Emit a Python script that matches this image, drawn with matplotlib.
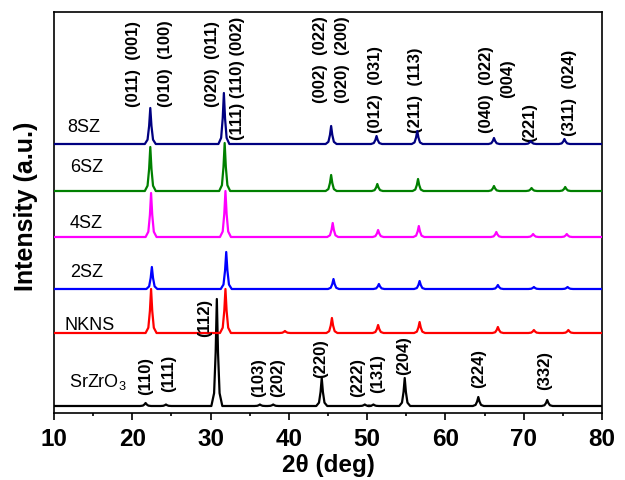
import matplotlib
matplotlib.use("Agg")
import matplotlib.pyplot as plt
import numpy as np

plt.rcParams['font.family'] = ['Liberation Sans', 'DejaVu Sans']
plt.rcParams['mathtext.fontset'] = 'custom'
plt.rcParams['mathtext.rm'] = 'Liberation Sans'
plt.rcParams['mathtext.default'] = 'rm'

# patterns, bottom to top: name, colour, baseline offset, peak positions (2theta), peak heights (a.u.)
names = ["SrZrO$_3$", "NKNS", "2SZ", "4SZ", "6SZ", "8SZ"]
colors = ["black", "#ff0000", "#0000ff", "#ff00ff", "#008000", "#000080"]
offsets = [7, 80, 124, 176, 222, 269]

srzro3_pos = [21.7, 24.3, 30.8, 36.3, 38.0, 44.2, 49.7, 50.8, 54.8, 64.2, 73.0]
srzro3_int = [3, 1.5, 107, 1.5, 1.5, 28, 1.5, 1.5, 28, 9, 6]
nkns_pos = [22.4, 31.9, 39.5, 45.5, 51.4, 56.7, 66.7, 71.3, 75.7]
nkns_int = [44, 44, 2, 15, 8, 11, 6, 3, 3]
sz2_pos = [22.5, 32.0, 45.7, 51.5, 56.7, 66.7, 71.3, 75.6]
sz2_int = [22, 37, 10, 5, 8, 4, 2, 2]
sz4_pos = [22.4, 31.9, 45.6, 51.4, 56.6, 66.5, 71.2, 75.5]
sz4_int = [44, 46, 14, 7, 11, 5, 3, 3]
sz6_pos = [22.3, 31.8, 45.4, 51.3, 56.5, 66.2, 71.0, 75.3]
sz6_int = [44, 48, 16, 7, 12, 5, 3, 4]
sz8_pos = [22.3, 31.7, 45.4, 51.2, 56.4, 66.2, 70.9, 75.2]
sz8_int = [36, 51, 18, 8, 13, 6, 3, 5]

peak_pos = [srzro3_pos, nkns_pos, sz2_pos, sz4_pos, sz6_pos, sz8_pos]
peak_int = [srzro3_int, nkns_int, sz2_int, sz4_int, sz6_int, sz8_int]

# curve name positions (x, y centre)
name_x = [11.9, 11.4, 12.0, 12.0, 12.0, 11.7]
name_y = [31, 87, 140, 189, 245, 285]

# hkl labels: text, x, y of the lower end
hkl_text = ["(011)  (001)", "(010)  (100)", "(020)  (011)", "(111) (110) (002)",
            "(002)  (022)", "(020)  (200)", "(012)  (031)", "(211)  (113)",
            "(040)  (022)", "(004)", "(221)", "(311)  (024)",
            "(110)", "(111)", "(112)", "(103)", "(202)", "(220)",
            "(222)", "(131)", "(204)", "(224)", "(332)"]
hkl_x = [20.2, 24.3, 30.2, 33.4,
         44.1, 46.8, 51.1, 56.2,
         65.2, 68.0, 70.7, 75.8,
         21.75, 24.6, 29.3, 36.1, 38.6, 44.0,
         48.8, 51.4, 54.6, 64.2, 72.7]
hkl_y = [306, 306, 306, 273,
         310, 310, 280, 280,
         280, 315, 271, 277,
         18, 21, 76, 16, 16, 35,
         16, 20, 38, 25, 23]

# shape of a single reflection (style only)
shape_dx = [-0.7, -0.35, -0.15, 0.0, 0.15, 0.35, 0.7]
shape_f = [0.0, 0.12, 0.5, 1.0, 0.5, 0.12, 0.0]


def pattern(base, positions, heights):
    x = [10.0]
    y = [base]
    for p, h in zip(positions, heights):
        for dx, f in zip(shape_dx, shape_f):
            x.append(p + dx)
            y.append(base + f * h)
    x.append(80.0)
    y.append(base)
    return np.array(x), np.array(y)


fig = plt.figure(figsize=(6.25, 4.8), dpi=100)
ax = fig.add_axes([0.0864, 0.1396, 0.8768, 0.8354])

for i in range(len(names)):
    x, y = pattern(offsets[i], peak_pos[i], peak_int[i])
    ax.plot(x, y, color=colors[i], lw=1.6, zorder=2 + i)
    ax.text(name_x[i], name_y[i], names[i], fontsize=13, ha='left', va='center')

for t, x, y in zip(hkl_text, hkl_x, hkl_y):
    ax.text(x, y, t, rotation=90, ha='center', va='bottom', fontsize=12, fontweight='bold')

ax.set_xlim(10, 80)
ax.set_ylim(0, 401)
ax.set_xticks(np.arange(10, 81, 10))
ax.set_xticks(np.arange(15, 80, 10), minor=True)
ax.set_yticks([])
ax.tick_params(axis='x', which='major', length=5, width=1.2, labelsize=17.5, pad=6)
ax.tick_params(axis='x', which='minor', length=2.5, width=1.2)
for lab in ax.get_xticklabels():
    lab.set_fontweight('bold')
for s in ax.spines.values():
    s.set_linewidth(1.2)

ax.set_xlabel(r"2θ (deg)", fontsize=17.5, fontweight='bold', labelpad=2)
ax.set_ylabel("Intensity (a.u.)", fontsize=18, fontweight='bold')
ax.yaxis.set_label_coords(-0.03, 0.515)

plt.savefig("out.png", dpi=100)
